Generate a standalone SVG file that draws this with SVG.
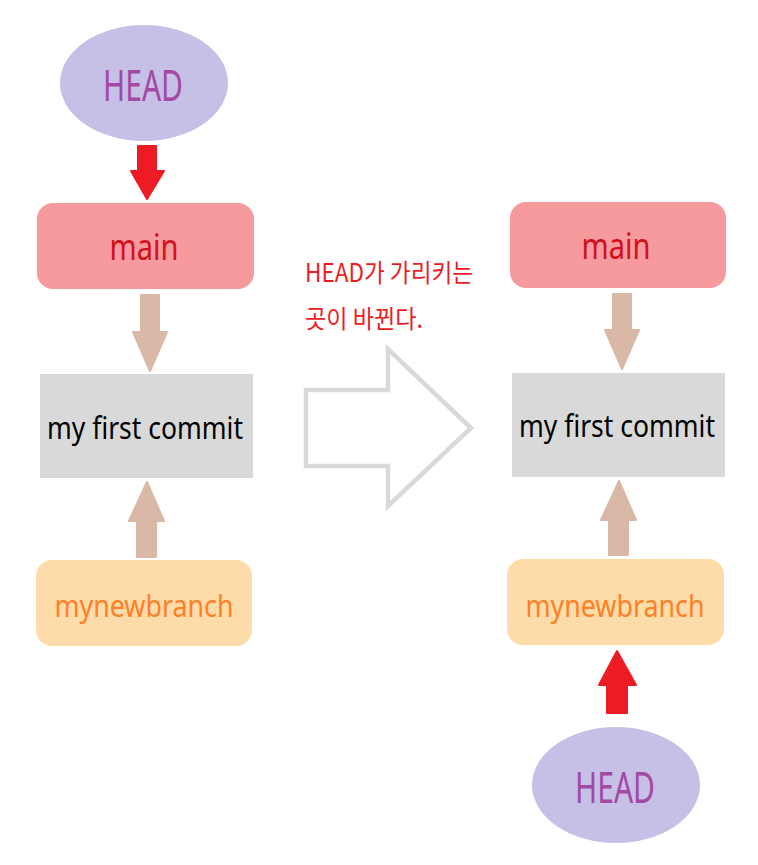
<svg xmlns="http://www.w3.org/2000/svg" width="758" height="865" viewBox="0 0 758 865">
<style>
.head{fill:#c6bfe6}
.headt{fill:#a349a4;font-family:"Noto Sans","Open Sans",sans-serif;font-size:44px}
.main{fill:#f79a9e}
.maint{fill:#d0101c;font-family:"Noto Sans","Open Sans",sans-serif;font-size:36px}
.commit{fill:#d9d9d9}
.committ{fill:#000;font-family:"Noto Sans","Open Sans",sans-serif;font-size:31px}
.br{fill:#fedcaa}
.brt{fill:#ff7f27;font-family:"Noto Sans","Open Sans",sans-serif;font-size:31px}
.red{fill:#ed1c24;stroke:#ed1c24;stroke-width:2;stroke-linejoin:round}
.brown{fill:#d9b8a7;stroke:#d9b8a7;stroke-width:2;stroke-linejoin:round}
.note{fill:#ed1c24;font-family:"Noto Sans CJK KR","Noto Sans",sans-serif;font-size:25px}
.big{fill:#fff;stroke:#d9d9d9;stroke-width:4.5}
</style>
<g id="connectors">
<path class="red" d="M138,146 H156 V171 H164 L147,199 L131,171 H138 Z"/>
<path class="brown" d="M141,295 H159 V332 H167 L150,371 L133,332 H141 Z"/>
<path class="brown" d="M137,557 H156 V521 H164 L147,482 L129,521 H137 Z"/>
<path class="brown" d="M613,294 H631 V330 H639 L622,369 L605,330 H613 Z"/>
<path class="brown" d="M609,555 H628 V520 H636 L619,481 L601,520 H609 Z"/>
<path class="red" d="M607,713 H627 V685 H636 L617,651 L599,685 H607 Z"/>
</g>
<g id="transition">
<path class="big" d="M306,390 H388 V349 L471,428 L388,506 V466 H306 Z"/>
<text class="note" x="305" y="282" textLength="168" lengthAdjust="spacingAndGlyphs">HEAD가 가리키는</text>
<text class="note" x="305" y="328" textLength="118" lengthAdjust="spacingAndGlyphs">곳이 바뀐다.</text>
</g>
<g id="head-left">
<ellipse class="head" cx="144" cy="83" rx="84" ry="58"/>
<text class="headt" x="143" y="101" text-anchor="middle" textLength="80" lengthAdjust="spacingAndGlyphs">HEAD</text>
</g>
<g id="main-left">
<rect class="main" x="37" y="203" width="217" height="86" rx="16"/>
<text class="maint" x="144" y="260" text-anchor="middle" textLength="69" lengthAdjust="spacingAndGlyphs">main</text>
</g>
<g id="commit-left">
<rect class="commit" x="40" y="374" width="213" height="104"/>
<text class="committ" x="145" y="439" text-anchor="middle" textLength="196" lengthAdjust="spacingAndGlyphs">my first commit</text>
</g>
<g id="branch-left">
<rect class="br" x="36" y="560" width="216" height="86" rx="16"/>
<text class="brt" x="144" y="617" text-anchor="middle" textLength="179" lengthAdjust="spacingAndGlyphs">mynewbranch</text>
</g>
<g id="main-right">
<rect class="main" x="510" y="202" width="216" height="86" rx="16"/>
<text class="maint" x="616" y="259" text-anchor="middle" textLength="69" lengthAdjust="spacingAndGlyphs">main</text>
</g>
<g id="commit-right">
<rect class="commit" x="512" y="373" width="213" height="104"/>
<text class="committ" x="617" y="437" text-anchor="middle" textLength="196" lengthAdjust="spacingAndGlyphs">my first commit</text>
</g>
<g id="branch-right">
<rect class="br" x="507" y="559" width="217" height="86" rx="16"/>
<text class="brt" x="615" y="617" text-anchor="middle" textLength="179" lengthAdjust="spacingAndGlyphs">mynewbranch</text>
</g>
<g id="head-right">
<ellipse class="head" cx="616" cy="785" rx="84" ry="58"/>
<text class="headt" x="615" y="803" text-anchor="middle" textLength="80" lengthAdjust="spacingAndGlyphs">HEAD</text>
</g>
</svg>
